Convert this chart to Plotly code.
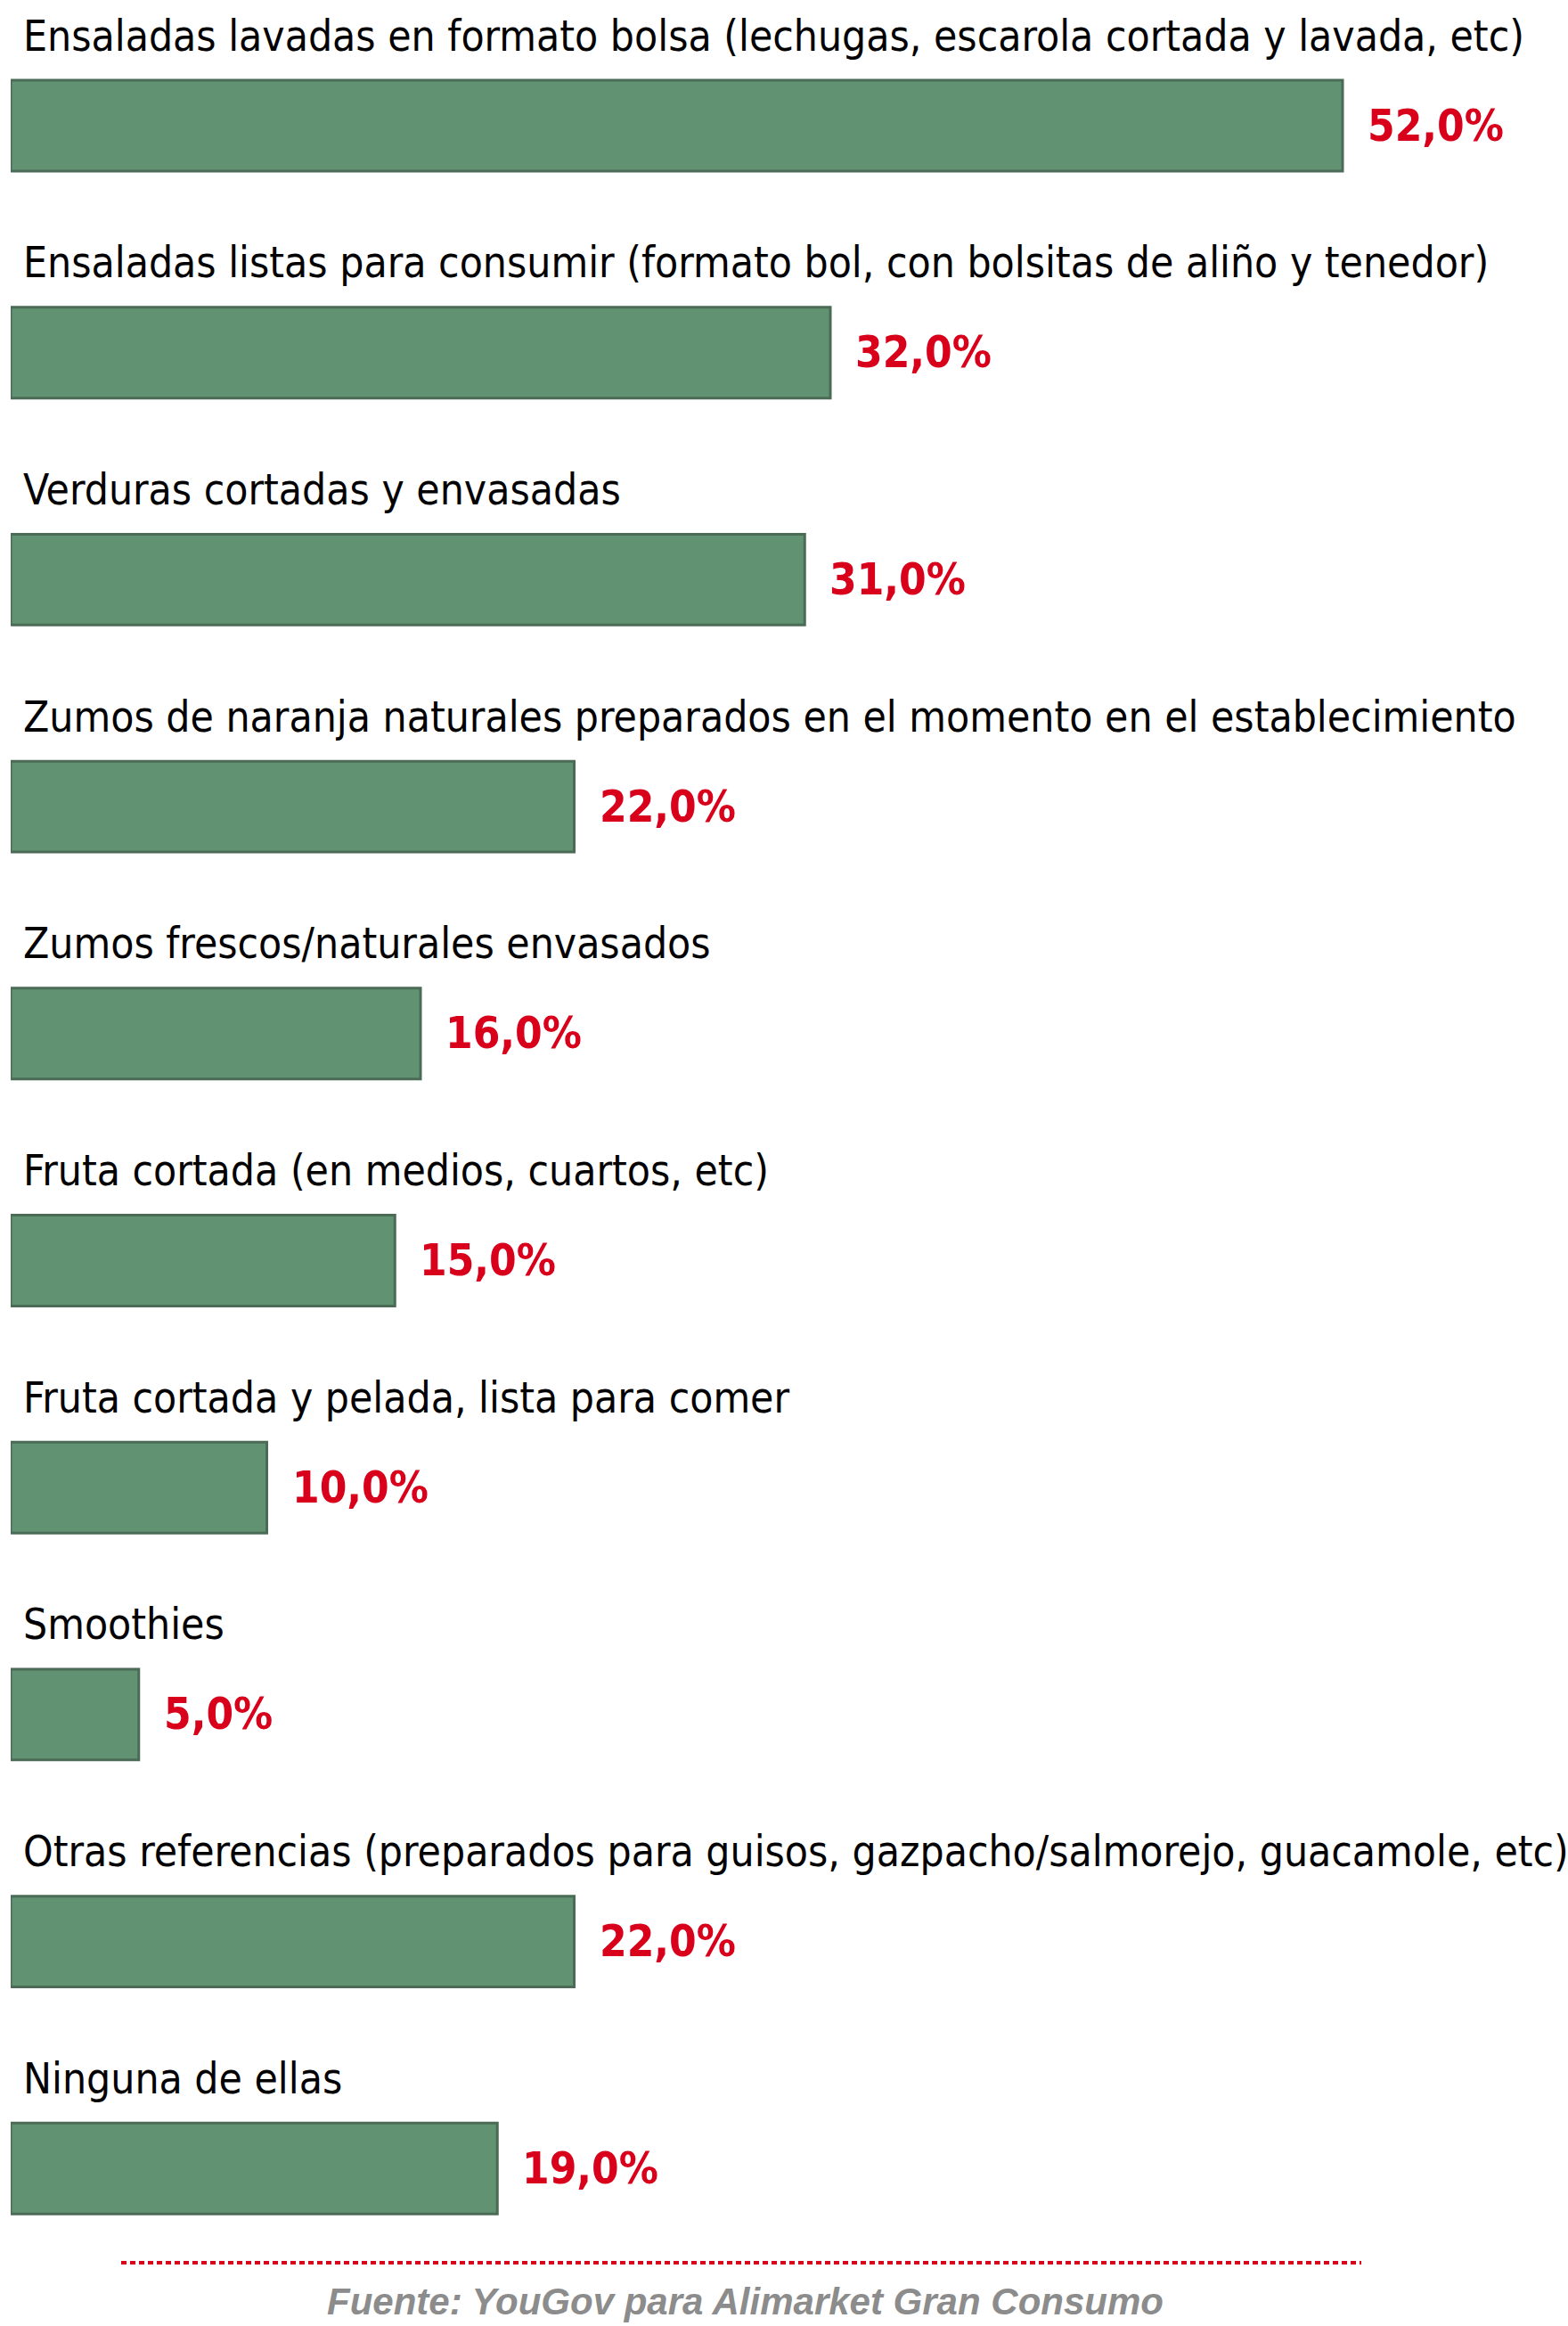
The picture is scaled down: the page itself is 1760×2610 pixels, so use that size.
import plotly.graph_objects as go

categories = [
    "Ensaladas lavadas en formato bolsa (lechugas, escarola cortada y lavada, etc)",
    "Ensaladas listas para consumir (formato bol, con bolsitas de aliño y tenedor)",
    "Verduras cortadas y envasadas",
    "Zumos de naranja naturales preparados en el momento en el establecimiento",
    "Zumos frescos/naturales envasados",
    "Fruta cortada (en medios, cuartos, etc)",
    "Fruta cortada y pelada, lista para comer",
    "Smoothies",
    "Otras referencias (preparados para guisos, gazpacho/salmorejo, guacamole, etc)",
    "Ninguna de ellas",
]
values = [52.0, 32.0, 31.0, 22.0, 16.0, 15.0, 10.0, 5.0, 22.0, 19.0]
value_labels = ["52,0%", "32,0%", "31,0%", "22,0%", "16,0%", "15,0%", "10,0%", "5,0%", "22,0%", "19,0%"]
source_text = "Fuente: YouGov para Alimarket Gran Consumo"

W, H = 1760, 2610
LABEL_FONT = "DejaVu Sans Condensed, Liberation Sans Narrow, sans-serif"
BAR_COLOR = "#619272"
BAR_EDGE = "#4b6b56"
RED = "#d9001b"

fig = go.Figure()
fig.add_trace(go.Bar(
    x=values,
    y=categories,
    orientation="h",
    marker=dict(color=BAR_COLOR, line=dict(color=BAR_EDGE, width=3)),
    hoverinfo="skip",
    showlegend=False,
))

annotations = []
for cat, v, lab in zip(categories, values, value_labels):
    annotations.append(dict(
        x=0, y=cat, xref="x", yref="y", text=cat, showarrow=False,
        xanchor="left", yanchor="middle", xshift=12, yshift=101,
        font=dict(family=LABEL_FONT, size=47.6, color="#000000"),
    ))
    annotations.append(dict(
        x=v, y=cat, xref="x", yref="y", text="<b>" + lab + "</b>", showarrow=False,
        xanchor="left", yanchor="middle", xshift=26, yshift=0,
        font=dict(family=LABEL_FONT, size=49, color=RED),
    ))

annotations.append(dict(
    x=836 / W, y=1 - 2582 / H, xref="paper", yref="paper",
    text="<b><i>" + source_text + "</i></b>", showarrow=False,
    xanchor="center", yanchor="middle",
    font=dict(family="Liberation Sans, Arial, sans-serif", size=42, color="#8c8c8c"),
))

px_per_unit = 28.75
row_step = 254.7
first_center = 141

fig.update_layout(
    width=W, height=H,
    margin=dict(l=0, r=0, t=0, b=0),
    paper_bgcolor="white", plot_bgcolor="white",
    bargap=0.6,
    xaxis=dict(domain=[12 / W, 1], range=[0, (W - 12) / px_per_unit],
               visible=False, fixedrange=True),
    yaxis=dict(type="category", categoryorder="array", categoryarray=categories,
               range=[(H - first_center) / row_step, -first_center / row_step],
               visible=False, fixedrange=True),
    annotations=annotations,
    shapes=[dict(
        type="line", xref="paper", yref="paper",
        x0=136 / W, x1=1528 / W, y0=1 - 2539 / H, y1=1 - 2539 / H,
        line=dict(color=RED, width=4, dash="6px,4px"),
    )],
)

fig.write_html("out.html", config={"displayModeBar": False},
               post_script="document.body.style.margin='0';document.body.style.overflow='hidden';")
